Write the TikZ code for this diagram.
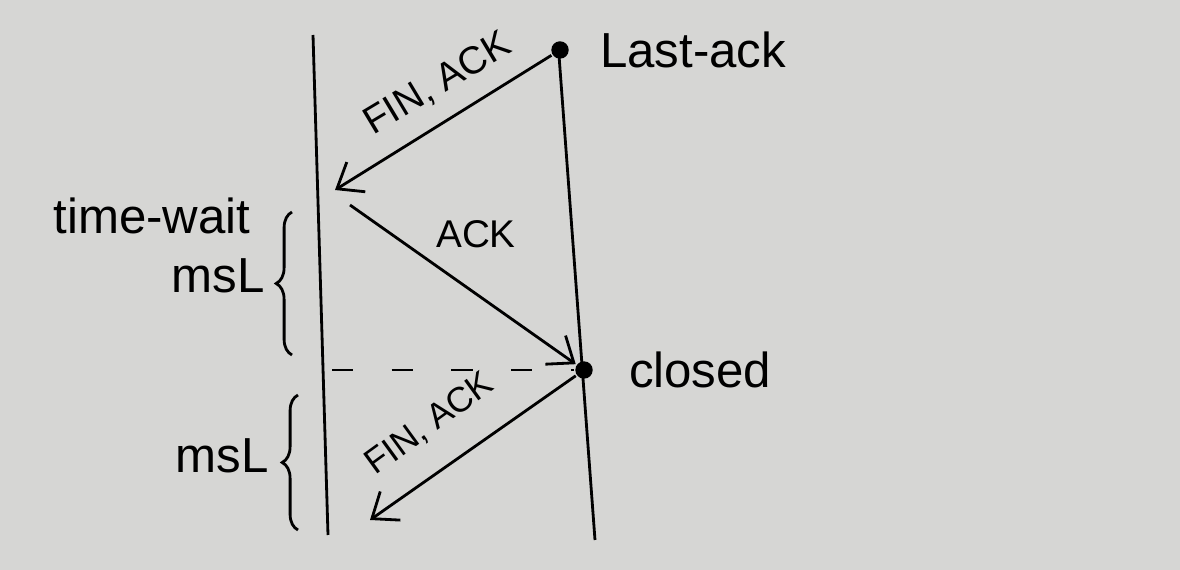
\documentclass[tikz,border=0pt]{standalone}
\usepackage{fontspec}
\setmainfont{Liberation Sans}
\usetikzlibrary{arrows.meta,calc,positioning,decorations.pathreplacing}
\definecolor{paper}{RGB}{214,214,212}
\tikzset{
    -{Straight Barb[length=4.5mm,width=7mm]},
    point/.style = {circle, fill, inner sep=3.5pt},
    lbl/.style = {font=\fontsize{28}{30}\selectfont, inner sep=2pt},
    small/.style = {font=\fontsize{22}{24}\selectfont, inner sep=2pt},
    life/.style = {-},
    gap/.style = {-, dash pattern=on 12pt off 22pt},
    brc/.style = {-, decorate, decoration={brace, amplitude=9pt}}
}

\begin{document}
\begin{tikzpicture}[x=0.02cm, y=-0.02cm, line width=1.6pt]
    \fill[paper] (0,0) rectangle (1180,570);
    \useasboundingbox (0,0) rectangle (1180,570);

    \coordinate (lt) at (313,35);
    \coordinate (lb) at (328,535);
    \coordinate (rt) at (558,42);
    \coordinate (rb) at (595,540);
    \node[point] (la) at (560,50) {};
    \node[point] (cl) at (584,370) {};
    \coordinate (a1) at (335,190);
    \coordinate (a2) at (350,205);
    \coordinate (a3) at (370,520);
    \coordinate (d0) at (332,370);

    \node[lbl, right=0.5cm of la] (lastack) {Last-ack};
    \node[lbl, right=0.6cm of cl] (closed) {closed};
    \node[lbl] (tw) at (152,216) {time-wait};
    \node[lbl] (msl1) at (218,276) {msL};
    \node[lbl] (msl2) at (222,456) {msL};
    \node[small] (ack) at (476,234) {ACK};
    \node[small, rotate=31] (fin1) at (438,84) {FIN, ACK};
    \node[small, rotate=36, font=\fontsize{20}{22}\selectfont] (fin2) at (430,424) {FIN, ACK};

    \path (lt) edge[life] (lb);
    \path (rt) edge[life] (rb);
    \path (la) edge (a1);
    \path (a2) edge (cl);
    \path (cl) edge (a3);
    \path (d0) edge[gap] (cl);
    \draw[brc] (292,355) -- (292,212);
    \draw[brc] (298,530) -- (298,395);
\end{tikzpicture}
\end{document}
